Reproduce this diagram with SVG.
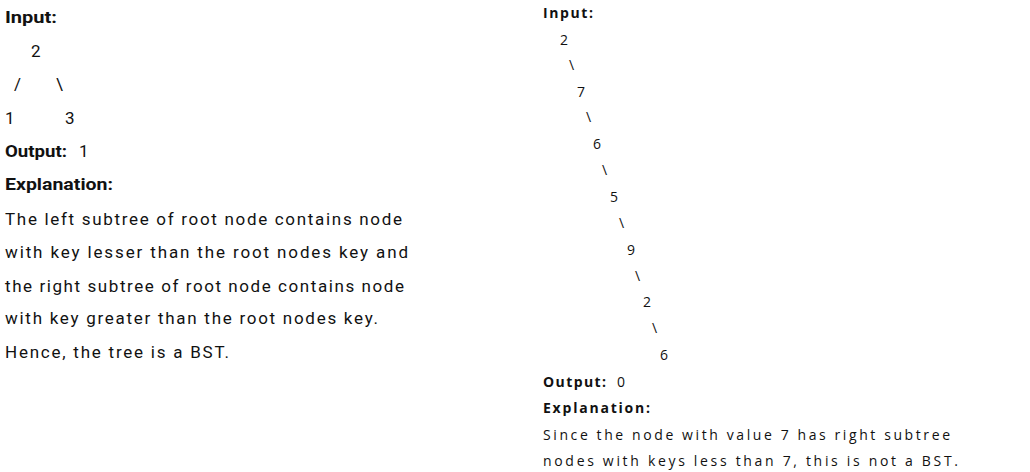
<svg xmlns="http://www.w3.org/2000/svg" width="1030" height="472" viewBox="0 0 1030 472">
<style>
.l{font-family:Roboto,"Liberation Sans",sans-serif;font-size:17px;fill:#111;}
.lb{font-family:Roboto,"Liberation Sans",sans-serif;font-size:17px;font-weight:bold;fill:#111;}
.r{font-family:"Open Sans","Liberation Sans",sans-serif;font-size:14px;fill:#111;}
.rb{font-family:"Open Sans","Liberation Sans",sans-serif;font-size:14px;font-weight:bold;fill:#111;}
</style>
<rect width="1030" height="472" fill="#fff"/>
<g id="left-example">
<text class="lb" x="5" y="23" textLength="52" lengthAdjust="spacingAndGlyphs">Input:</text>
<g id="left-tree">
<text class="l" x="31" y="57">2</text>
<text class="l" x="14" y="90">/</text>
<text class="l" x="56" y="90">\</text>
<text class="l" x="5" y="124">1</text>
<text class="l" x="65" y="124">3</text>
</g>
<text class="lb" x="5" y="157" textLength="62" lengthAdjust="spacingAndGlyphs">Output:</text>
<text class="l" x="79" y="157">1</text>
<text class="lb" x="5" y="190" textLength="108" lengthAdjust="spacingAndGlyphs">Explanation:</text>
<text class="l" x="5" y="225" textLength="397" lengthAdjust="spacing">The left subtree of root node contains node</text>
<text class="l" x="5" y="258" textLength="403" lengthAdjust="spacing">with key lesser than the root nodes key and</text>
<text class="l" x="5" y="292" textLength="399" lengthAdjust="spacing">the right subtree of root node contains node</text>
<text class="l" x="5" y="324" textLength="373" lengthAdjust="spacing">with key greater than the root nodes key.</text>
<text class="l" x="5" y="358" textLength="224" lengthAdjust="spacing">Hence, the tree is a BST.</text>
</g>
<g id="right-example">
<text class="rb" x="543" y="18" textLength="50" lengthAdjust="spacing">Input:</text>
<g id="right-tree">
<text class="r" x="560" y="45">2</text>
<text class="r" x="569" y="70">\</text>
<text class="r" x="577" y="97">7</text>
<text class="r" x="586" y="122">\</text>
<text class="r" x="593" y="149">6</text>
<text class="r" x="602" y="175">\</text>
<text class="r" x="610" y="202">5</text>
<text class="r" x="619" y="228">\</text>
<text class="r" x="627" y="255">9</text>
<text class="r" x="635" y="281">\</text>
<text class="r" x="643" y="307">2</text>
<text class="r" x="652" y="333">\</text>
<text class="r" x="660" y="360">6</text>
</g>
<text class="rb" x="543" y="387" textLength="63" lengthAdjust="spacing">Output:</text>
<text class="r" x="617" y="387">0</text>
<text class="rb" x="543" y="413" textLength="107" lengthAdjust="spacing">Explanation:</text>
<text class="r" x="543" y="440" textLength="407" lengthAdjust="spacing">Since the node with value 7 has right subtree</text>
<text class="r" x="543" y="466" textLength="415" lengthAdjust="spacing">nodes with keys less than 7, this is not a BST.</text>
</g>
</svg>
